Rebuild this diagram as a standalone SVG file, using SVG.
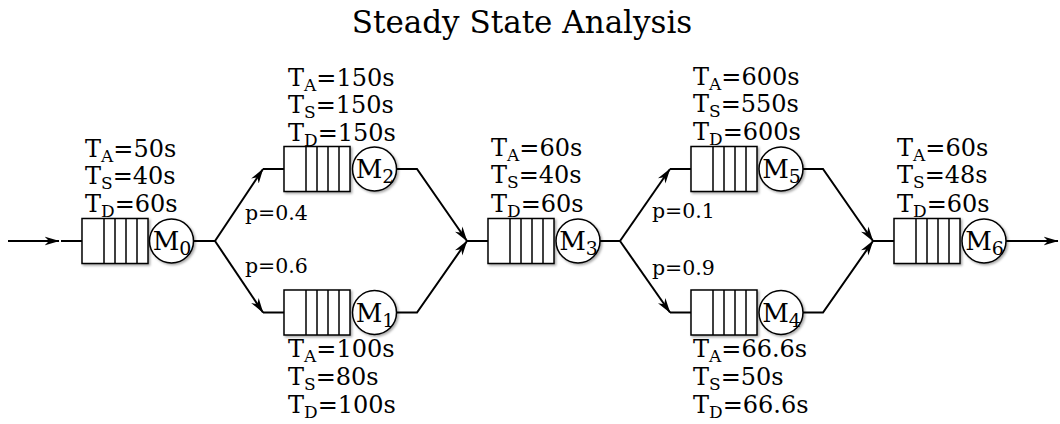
<svg xmlns="http://www.w3.org/2000/svg" width="1060" height="424" viewBox="0 0 1060 424">
  <style>
    text { font-family: "DejaVu Serif", "Liberation Serif", serif; fill: #000; }
    .title { font-size: 31px; }
    .lbl { font-size: 24px; }
    .sub { font-size: 17px; }
    .srvname { font-size: 26px; }
    .srvsub { font-size: 19px; }
    .prob { font-size: 20.5px; }
    .box { fill: #fff; stroke: #000; stroke-width: 1.5; }
    .slot { stroke: #000; stroke-width: 1.5; }
    .srv { fill: #fff; stroke: #000; stroke-width: 1.5; }
    .wire { fill: none; stroke: #000; stroke-width: 2; }
    .arrow { marker-end: url(#head); }
  </style>
  <defs>
    <marker id="head" viewBox="0 0 15 10" refX="14.5" refY="5" markerWidth="15" markerHeight="10" markerUnits="userSpaceOnUse" orient="auto">
      <path d="M0,0.5 L15,5 L0,9.5 L4.5,5 Z" fill="#000"/>
    </marker>
    <filter id="shade" x="-20%" y="-20%" width="150%" height="150%">
      <feDropShadow dx="1.5" dy="1.5" stdDeviation="1" flood-color="#000" flood-opacity="0.35"/>
    </filter>
  </defs>

  <rect width="1060" height="424" fill="#fff"/>
  <text class="title" x="522" y="33" text-anchor="middle">Steady State Analysis</text>

  <!-- connectors -->
  <g id="connectors">
    <path class="wire arrow" d="M8,241 H59"/>
    <path class="wire" d="M61,241 H82"/>
    <path class="wire" d="M193.5,241 H215"/>
    <path class="wire arrow" d="M215,241 L263,169"/>
    <path class="wire" d="M263,169 H284"/>
    <path class="wire arrow" d="M215,241 L263,312.5"/>
    <path class="wire" d="M263,312.5 H284"/>
    <path class="wire arrow" d="M396.5,169 H417 L467,241"/>
    <path class="wire arrow" d="M396.5,312.5 H417 L467,241"/>
    <path class="wire" d="M467,241 H488"/>
    <path class="wire" d="M600,241 H620"/>
    <path class="wire arrow" d="M620,241 L670,169"/>
    <path class="wire" d="M670,169 H691"/>
    <path class="wire arrow" d="M620,241 L670,312.5"/>
    <path class="wire" d="M670,312.5 H691"/>
    <path class="wire arrow" d="M803,169 H823 L873,241"/>
    <path class="wire arrow" d="M803,312.5 H823 L873,241"/>
    <path class="wire" d="M873,241 H894"/>
    <path class="wire arrow" d="M1006,241 H1058"/>
  </g>

  <!-- branch probabilities -->
  <g id="probabilities">
    <text class="prob" x="245" y="220">p=0.4</text>
    <text class="prob" x="245" y="273">p=0.6</text>
    <text class="prob" x="652" y="218">p=0.1</text>
    <text class="prob" x="652" y="275">p=0.9</text>
  </g>

  <!-- M0 -->
  <g id="m0">
    <rect class="box" x="82" y="218.5" width="66" height="45" filter="url(#shade)"/>
    <path class="slot" d="M104,218.5 V263.5 M115,218.5 V263.5 M126,218.5 V263.5 M137,218.5 V263.5"/>
    <circle class="srv" cx="171.5" cy="241" r="22" filter="url(#shade)"/>
    <text class="srvname" x="172" y="250" text-anchor="middle">M<tspan class="srvsub" dy="5">0</tspan></text>
    <text class="lbl" x="85" y="157">T<tspan class="sub" dy="5">A</tspan><tspan dy="-5">=50s</tspan></text>
    <text class="lbl" x="85" y="184">T<tspan class="sub" dy="5">S</tspan><tspan dy="-5">=40s</tspan></text>
    <text class="lbl" x="85" y="212">T<tspan class="sub" dy="5">D</tspan><tspan dy="-5">=60s</tspan></text>
  </g>

  <!-- M2 -->
  <g id="m2">
    <rect class="box" x="284" y="146.5" width="66" height="45" filter="url(#shade)"/>
    <path class="slot" d="M306,146.5 V191.5 M317,146.5 V191.5 M328,146.5 V191.5 M339,146.5 V191.5"/>
    <circle class="srv" cx="374.5" cy="169" r="22" filter="url(#shade)"/>
    <text class="srvname" x="375" y="178" text-anchor="middle">M<tspan class="srvsub" dy="5">2</tspan></text>
    <text class="lbl" x="288" y="86">T<tspan class="sub" dy="5">A</tspan><tspan dy="-5">=150s</tspan></text>
    <text class="lbl" x="288" y="113">T<tspan class="sub" dy="5">S</tspan><tspan dy="-5">=150s</tspan></text>
    <text class="lbl" x="288" y="141">T<tspan class="sub" dy="5">D</tspan><tspan dy="-5">=150s</tspan></text>
  </g>

  <!-- M1 -->
  <g id="m1">
    <rect class="box" x="284" y="290" width="66" height="45" filter="url(#shade)"/>
    <path class="slot" d="M306,290 V335 M317,290 V335 M328,290 V335 M339,290 V335"/>
    <circle class="srv" cx="374.5" cy="312.5" r="22" filter="url(#shade)"/>
    <text class="srvname" x="375" y="321.5" text-anchor="middle">M<tspan class="srvsub" dy="5">1</tspan></text>
    <text class="lbl" x="288" y="357">T<tspan class="sub" dy="5">A</tspan><tspan dy="-5">=100s</tspan></text>
    <text class="lbl" x="288" y="385">T<tspan class="sub" dy="5">S</tspan><tspan dy="-5">=80s</tspan></text>
    <text class="lbl" x="288" y="413">T<tspan class="sub" dy="5">D</tspan><tspan dy="-5">=100s</tspan></text>
  </g>

  <!-- M3 -->
  <g id="m3">
    <rect class="box" x="488" y="218.5" width="66" height="45" filter="url(#shade)"/>
    <path class="slot" d="M510,218.5 V263.5 M521,218.5 V263.5 M532,218.5 V263.5 M543,218.5 V263.5"/>
    <circle class="srv" cx="578" cy="241" r="22" filter="url(#shade)"/>
    <text class="srvname" x="578.5" y="250" text-anchor="middle">M<tspan class="srvsub" dy="5">3</tspan></text>
    <text class="lbl" x="491" y="156">T<tspan class="sub" dy="5">A</tspan><tspan dy="-5">=60s</tspan></text>
    <text class="lbl" x="491" y="183">T<tspan class="sub" dy="5">S</tspan><tspan dy="-5">=40s</tspan></text>
    <text class="lbl" x="491" y="212">T<tspan class="sub" dy="5">D</tspan><tspan dy="-5">=60s</tspan></text>
  </g>

  <!-- M5 -->
  <g id="m5">
    <rect class="box" x="691" y="146.5" width="66" height="45" filter="url(#shade)"/>
    <path class="slot" d="M713,146.5 V191.5 M724,146.5 V191.5 M735,146.5 V191.5 M746,146.5 V191.5"/>
    <circle class="srv" cx="781" cy="169" r="22" filter="url(#shade)"/>
    <text class="srvname" x="781.5" y="178" text-anchor="middle">M<tspan class="srvsub" dy="5">5</tspan></text>
    <text class="lbl" x="693" y="85">T<tspan class="sub" dy="5">A</tspan><tspan dy="-5">=600s</tspan></text>
    <text class="lbl" x="693" y="112">T<tspan class="sub" dy="5">S</tspan><tspan dy="-5">=550s</tspan></text>
    <text class="lbl" x="693" y="140">T<tspan class="sub" dy="5">D</tspan><tspan dy="-5">=600s</tspan></text>
  </g>

  <!-- M4 -->
  <g id="m4">
    <rect class="box" x="691" y="290" width="66" height="45" filter="url(#shade)"/>
    <path class="slot" d="M713,290 V335 M724,290 V335 M735,290 V335 M746,290 V335"/>
    <circle class="srv" cx="781" cy="312.5" r="22" filter="url(#shade)"/>
    <text class="srvname" x="781.5" y="321.5" text-anchor="middle">M<tspan class="srvsub" dy="5">4</tspan></text>
    <text class="lbl" x="693" y="357">T<tspan class="sub" dy="5">A</tspan><tspan dy="-5">=66.6s</tspan></text>
    <text class="lbl" x="693" y="385">T<tspan class="sub" dy="5">S</tspan><tspan dy="-5">=50s</tspan></text>
    <text class="lbl" x="693" y="413">T<tspan class="sub" dy="5">D</tspan><tspan dy="-5">=66.6s</tspan></text>
  </g>

  <!-- M6 -->
  <g id="m6">
    <rect class="box" x="894" y="218.5" width="66" height="45" filter="url(#shade)"/>
    <path class="slot" d="M916,218.5 V263.5 M927,218.5 V263.5 M938,218.5 V263.5 M949,218.5 V263.5"/>
    <circle class="srv" cx="984" cy="241" r="22" filter="url(#shade)"/>
    <text class="srvname" x="984.5" y="250" text-anchor="middle">M<tspan class="srvsub" dy="5">6</tspan></text>
    <text class="lbl" x="897" y="156">T<tspan class="sub" dy="5">A</tspan><tspan dy="-5">=60s</tspan></text>
    <text class="lbl" x="897" y="183">T<tspan class="sub" dy="5">S</tspan><tspan dy="-5">=48s</tspan></text>
    <text class="lbl" x="897" y="212">T<tspan class="sub" dy="5">D</tspan><tspan dy="-5">=60s</tspan></text>
  </g>
</svg>
